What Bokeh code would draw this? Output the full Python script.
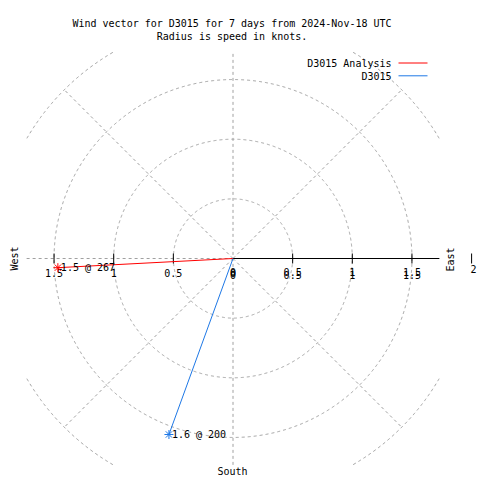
import numpy as np
from bokeh.plotting import figure
from bokeh.models import Range1d
from bokeh.embed import file_html
from bokeh.resources import INLINE
from bokeh.core.properties import value

# ---- data ----
SERIES = ["D3015 Analysis", "D3015"]
SPEED_KT = [1.47, 1.57]
DIRECTION_DEG = [267, 200]
COLORS = ["#ff0000", "#1e78e6"]
RING_RADII = [0.5, 1.0, 1.5, 2.0]
SPOKE_DEG = [45, 135, 225, 315]
TICKS = [0.5, 1.0, 1.5]
TICK_LABELS = ["0.5", "1", "1.5"]
TITLE_LINES = ["Wind vector for D3015 for 7 days from 2024-Nov-18 UTC",
               "Radius is speed in knots."]

# ---- geometry (screenshot pixel layout) ----
W = H = 480
ORIGIN = 0                 # canvas offset on the page as observed
CX, CY = 232.5, 258.0      # centre in screenshot px
SCALE = 119.3              # px per knot
LIM = 1.73                 # plot box half-size (knots)

FONT = value("DejaVu Sans Mono")
FS = value("10px")
GRID = "#a0a0a0"


def dx(px):
    return (px - CX) / SCALE


def dy(py):
    return (CY - py) / SCALE


p = figure(width=W, height=H, output_backend="svg", toolbar_location=None,
           x_range=Range1d(dx(ORIGIN), dx(ORIGIN + W)),
           y_range=Range1d(dy(ORIGIN + H), dy(ORIGIN)),
           x_axis_location=None, y_axis_location=None,
           min_border=0, outline_line_color=None)
p.grid.visible = False
p.background_fill_color = "white"

# rings
t = np.linspace(0, 2 * np.pi, 1441)
for r in RING_RADII:
    x = r * np.cos(t)
    y = r * np.sin(t)
    mask = (np.abs(x) > LIM) | (np.abs(y) > LIM)
    x = np.where(mask, np.nan, x)
    y = np.where(mask, np.nan, y)
    p.line(x, y, line_color=GRID, line_dash="3 3", line_width=1)

# spokes
rmax = max(RING_RADII)
sp = np.radians(SPOKE_DEG)
p.segment(x0=[0] * len(sp), y0=[0] * len(sp), x1=list(rmax * np.cos(sp)),
          y1=list(rmax * np.sin(sp)), line_color=GRID, line_dash="3 3", line_width=1)

# zero axes
p.segment(x0=[0, -LIM], y0=[-LIM, 0], x1=[0, 0], y1=[LIM, 0],
          line_color=GRID, line_dash="3 3", line_width=1)
p.segment(x0=[0], y0=[0], x1=[LIM], y1=[0], line_color="black", line_width=1)

# tick marks
tick_x = [-v for v in TICKS] + TICKS + [rmax]
p.scatter(tick_x, [0] * len(tick_x), marker="dash", angle=np.pi / 2, size=10,
          line_color="black", line_width=1)

# tick labels: west
p.text([-v for v in TICKS] + [0], [0] * (len(TICKS) + 1), text=TICK_LABELS + ["0"],
       text_font=FONT, text_font_size=FS, text_align="center",
       text_baseline="middle", y_offset=14, text_color="black")
# east (double struck as in the reference)
for off in (13, 16.5):
    p.text(TICKS + [0], [0] * (len(TICKS) + 1), text=TICK_LABELS + ["0"],
           text_font=FONT, text_font_size=FS, text_align="center",
           text_baseline="middle", y_offset=off, text_color="black")
p.text([rmax], [0], text=["2"], text_font=FONT, text_font_size=FS,
       text_align="center", text_baseline="middle", y_offset=10.5, x_offset=2,
       text_color="black")

# wind vectors
for name, s, d, c in zip(SERIES, SPEED_KT, DIRECTION_DEG, COLORS):
    th = np.radians(d)
    x = s * np.sin(th)
    y = s * np.cos(th)
    p.segment(x0=[0], y0=[0], x1=[x], y1=[y], line_color=c, line_width=1)
    p.scatter([x], [y], marker="asterisk", size=9, line_color=c, line_width=1)
    p.text([x], [y], text=[f"{s:.1f} @ {d}"], text_font=FONT, text_font_size=FS,
           text_align="left", text_baseline="middle", x_offset=3,
           text_color="black")

# titles
p.text([dx(231.5)], [dy(23.3)], text=[TITLE_LINES[0]], text_font=FONT,
       text_font_size=FS, text_align="center", text_baseline="alphabetic")
p.text([dx(231.5)], [dy(36)], text=[TITLE_LINES[1]], text_font=FONT,
       text_font_size=FS, text_align="center", text_baseline="alphabetic")

# legend
for i, (name, c) in enumerate(zip(SERIES, COLORS)):
    ly = 62.5 + 12.8 * i
    p.text([dx(391)], [dy(ly + 0.5)], text=[name], text_font=FONT, text_font_size=FS,
           text_align="right", text_baseline="middle")
    p.segment(x0=[dx(398)], y0=[dy(ly)], x1=[dx(427)], y1=[dy(ly)],
              line_color=c, line_width=1)

# compass labels
p.text([dx(14)], [dy(258)], text=["West"], angle=np.pi / 2, text_font=FONT,
       text_font_size=FS, text_align="center", text_baseline="middle")
p.text([dx(450)], [dy(259)], text=["East"], angle=np.pi / 2, text_font=FONT,
       text_font_size=FS, text_align="center", text_baseline="middle")
p.text([dx(232)], [dy(471)], text=["South"], text_font=FONT,
       text_font_size=FS, text_align="center", text_baseline="middle")

open("out.html", "w").write(file_html(p, INLINE))
